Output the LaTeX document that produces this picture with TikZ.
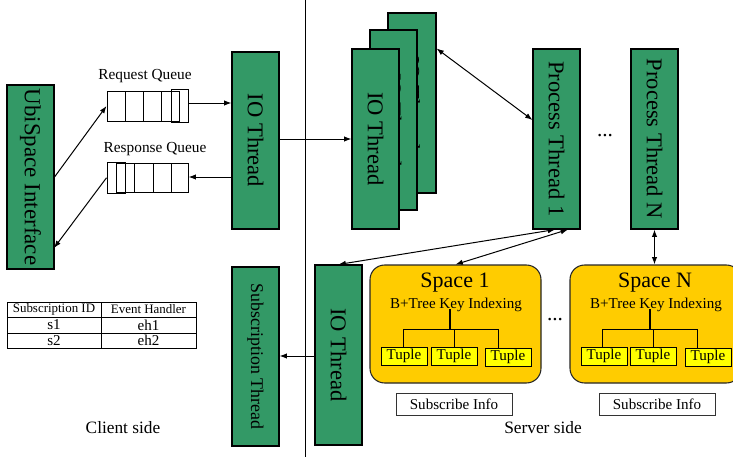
\documentclass[tikz,border=0pt]{standalone}
\usepackage{fontspec}
\setmainfont{Liberation Serif}
\usetikzlibrary{arrows.meta,shadows}
\definecolor{grn}{RGB}{51,153,102}
\definecolor{spc}{RGB}{255,204,0}
\definecolor{tpl}{RGB}{255,255,0}
\newcommand{\myfs}[1]{\fontsize{#1}{#1}\selectfont}
\begin{document}
\begin{tikzpicture}[x=0.75pt,y=-0.75pt,line width=0.75pt,
  sz/.style 2 args={minimum width={#1*0.75pt},minimum height={#2*0.75pt}},
  gbox/.style={draw=black,fill=grn,inner sep=0pt,line width=0.8pt,
    drop shadow={shadow xshift=1pt,shadow yshift=-1pt,fill=black!35,opacity=0.7}},
  plainbox/.style={draw=black,inner sep=0pt},
  spbox/.style={draw=black!85,fill=spc,inner sep=0pt,rounded corners=11pt,line width=0.8pt},
  tbox/.style={draw=black,fill=tpl,inner sep=0pt,font=\myfs{11.3},sz={46}{18}},
  sibox/.style={draw=black!80,inner sep=0pt,font=\myfs{11.3},sz={116}{22}},
  tcell/.style={draw=black,inner sep=0pt},
  arr/.style={-{Latex[length=5.5pt,width=4pt]}},
  darr/.style={{Latex[length=5.5pt,width=4pt]}-{Latex[length=5.5pt,width=4pt]}},
  lbl/.style={inner sep=0pt}]
\useasboundingbox (0,0) rectangle (733,457);
\clip (0,0) rectangle (733,457);

% helper y-levels
\coordinate (r103) at (0,103);
\coordinate (r177) at (0,177);
\coordinate (r139) at (0,139);
\coordinate (r120) at (0,120);
\coordinate (r356) at (0,356);
\coordinate (u248) at (54,248);
\coordinate (c568) at (568,0);

% separator
\draw (305,0) -- (305,457);

% ---------------- client side
\node[gbox,sz={47}{184}] (ubi) at (30.5,177) {\rotatebox{-90}{\myfs{17.2}UbiSpace Interface}};
\node[gbox,sz={47}{177}] (ioc) at (255.5,140.5) {\rotatebox{-90}{\myfs{16.9}IO Thread}};
\node[gbox,sz={47}{179}] (sub) at (255.5,356.5) {\rotatebox{-90}{\myfs{13.4}Subscription Thread}};

% request queue
\node[lbl,font=\myfs{11.5}] (rql) at (145,76) {Request Queue};
\node[plainbox,sz={72}{30}] (rq) at (143,106) {};
\draw (125,91) -- (125,121) (143,91) -- (143,121) (161,91) -- (161,121);
\node[plainbox,sz={17}{33}] (rqe) at (179.5,106) {};

% response queue
\node[lbl,font=\myfs{11.5}] (rsl) at (155,149) {Response Queue};
\node[plainbox,sz={18}{31.5}] (rsb) at (116,177.75) {};
\node[plainbox,sz={72}{28.5}] (rsc) at (152,177.75) {};
\draw (134,163.5) -- (134,192) (153,163.5) -- (153,192) (171,163.5) -- (171,192);

\draw[arr] (ubi.east) -- (rq.west);
\draw[arr] (rsb.west) -- (u248);
\draw[arr] (rqe.east |- r103) -- (ioc.west |- r103);
\draw[arr] (ioc.west |- r177) -- (rsc.east |- r177);

% table
\node[tcell,sz={94}{15},font=\myfs{9.7}] (h1) at (54,309.5) {Subscription ID};
\node[tcell,sz={95}{15},font=\myfs{9.7}] (h2) at (148.5,309.5) {Event Handler};
\node[tcell,sz={94}{16},font=\myfs{11.3}] (a1) at (54,325) {s1};
\node[tcell,sz={95}{16},font=\myfs{11.3}] (a2) at (148.5,325) {eh1};
\node[tcell,sz={94}{15},font=\myfs{11.3}] (b1) at (54,340.5) {s2};
\node[tcell,sz={95}{15},font=\myfs{11.3}] (b2) at (148.5,340.5) {eh2};

\node[lbl,font=\myfs{13}] (cs) at (123,428) {Client side};
\node[lbl,font=\myfs{13}] (ss) at (543,428) {Server side};

% ---------------- server side
\node[gbox,sz={48}{180}] (iob) at (412,103) {\rotatebox{-90}{\myfs{16.9}IO Thread}};
\node[gbox,sz={47}{180}] (iom) at (393.5,120) {\rotatebox{-90}{\myfs{16.9}IO Thread}};
\node[gbox,sz={47}{180}] (iof) at (375.5,139) {\rotatebox{-90}{\myfs{16.9}IO Thread}};

\node[gbox,sz={47}{180}] (p1) at (556.5,139) {\rotatebox{-90}{\myfs{16.9}Process Thread 1}};
\node[gbox,sz={47}{180}] (pn) at (654.5,139) {\rotatebox{-90}{\myfs{16.9}Process Thread N}};
\node[lbl,font=\myfs{16}] (dots1) at (605,136) {...};

\node[gbox,sz={47}{180}] (ios) at (338.5,355) {\rotatebox{-90}{\myfs{16.9}IO Thread}};

\draw[arr] (ioc.east |- r139) -- (iof.west |- r139);
\draw[darr] (iob.east |- p1.north) -- (p1.west |- r120);
\draw[arr] (ios.west |- r356) -- (sub.east |- r356);

% space 1
\node[spbox,sz={171}{118}] (sp1) at (455.5,324) {};
\node[lbl,font=\myfs{16.5}] (sp1t) at (455,283) {Space 1};
\node[lbl,font=\myfs{11.3}] (sp1k) at (456,305) {B+Tree Key Indexing};
\node[tbox] (t11) at (404,356) {Tuple};
\node[tbox] (t12) at (454,356) {Tuple};
\node[tbox] (t13) at (508,357) {Tuple};
\draw[line width=1.4pt] (450,309) -- (450,329);
\draw (403,329) -- (498,329);
\draw (403,329) -- (403,347) (454,329) -- (454,347) (498,329) -- (498,348);
\node[sibox] (si1) at (454,404) {Subscribe Info};

\node[lbl,font=\myfs{16}] (dots2) at (555,320) {...};

% space N
\node[spbox,sz={171}{118}] (spn) at (655.5,324) {};
\node[lbl,font=\myfs{16.5}] (spnt) at (655,283) {Space N};
\node[lbl,font=\myfs{11.3}] (spnk) at (656,305) {B+Tree Key Indexing};
\node[tbox] (tn1) at (604,356) {Tuple};
\node[tbox] (tn2) at (653,356) {Tuple};
\node[tbox] (tn3) at (708,357) {Tuple};
\draw[line width=1.4pt] (650,309) -- (650,329);
\draw (602,329) -- (697,329);
\draw (602,329) -- (602,347) (653,329) -- (653,347) (697,329) -- (697,348);
\node[sibox] (sin) at (657,404) {Subscribe Info};

% connectors to process threads
\draw[darr] (ios.north) -- ([xshift=-1pt]p1.south);
\draw[darr] (sp1.north) -- (p1.south -| c568);
\draw[darr] (pn.south) -- (spn.north -| pn.south);
\end{tikzpicture}
\end{document}
